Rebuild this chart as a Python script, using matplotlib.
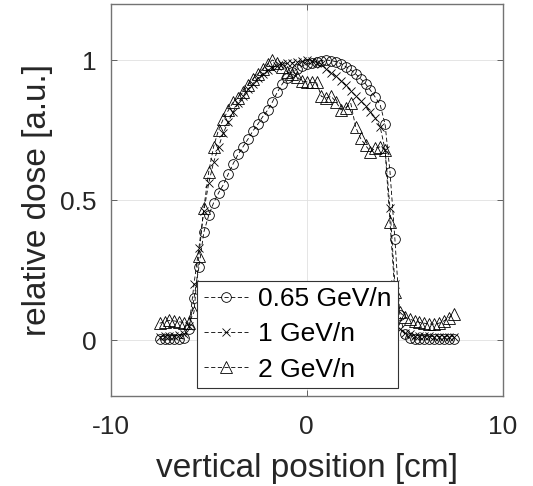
import matplotlib
matplotlib.use('Agg')
import matplotlib.pyplot as plt

# vertical position [cm]
pos = [-7.5, -7.25, -7.0, -6.75, -6.5, -6.25, -6.0, -5.75, -5.5, -5.25,
       -5.0, -4.75, -4.5, -4.25, -4.0, -3.75, -3.5, -3.25, -3.0, -2.75,
       -2.5, -2.25, -2.0, -1.75, -1.5, -1.25, -1.0, -0.75, -0.5, -0.25,
       0.0, 0.25, 0.5, 0.75, 1.0, 1.25, 1.5, 1.75, 2.0, 2.25,
       2.5, 2.75, 3.0, 3.25, 3.5, 3.75, 4.0, 4.25, 4.5, 4.75,
       5.0, 5.25, 5.5, 5.75, 6.0, 6.25, 6.5, 6.75, 7.0, 7.25, 7.5]

dose_065 = [0.003, 0.003, 0.004, 0.004, 0.005, 0.006, 0.04, 0.15, 0.26, 0.385,
            0.445, 0.49, 0.525, 0.555, 0.593, 0.63, 0.663, 0.69, 0.717, 0.746,
            0.77, 0.797, 0.82, 0.85, 0.885, 0.914, 0.937, 0.957, 0.967, 0.977,
            0.985, 0.99, 0.994, 0.998, 1.0, 0.998, 0.994, 0.987, 0.976, 0.965,
            0.95, 0.933, 0.915, 0.892, 0.867, 0.84, 0.77, 0.6, 0.36, 0.09,
            0.02, 0.006, 0.004, 0.004, 0.003, 0.003, 0.003, 0.003, 0.004, 0.004, 0.004]

dose_1 = [0.012, 0.013, 0.015, 0.016, 0.018, 0.02, 0.05, 0.2, 0.33, 0.46,
          0.56, 0.635, 0.69, 0.74, 0.78, 0.815, 0.845, 0.87, 0.895, 0.915,
          0.935, 0.95, 0.963, 0.973, 0.98, 0.985, 0.988, 0.99, 0.993, 0.997,
          1.0, 0.998, 0.99, 0.985, 0.968, 0.955, 0.942, 0.926, 0.91, 0.89,
          0.872, 0.855, 0.835, 0.815, 0.793, 0.76, 0.68, 0.47, 0.2, 0.04,
          0.025, 0.02, 0.016, 0.015, 0.014, 0.013, 0.012, 0.012, 0.012, 0.012, 0.012]

dose_2 = [0.06, 0.065, 0.07, 0.068, 0.065, 0.062, 0.06, 0.1, 0.3, 0.47,
          0.6, 0.69, 0.75, 0.79, 0.82, 0.85, 0.865, 0.885, 0.91, 0.932,
          0.95, 0.967, 0.985, 1.0, 0.99, 0.975, 0.958, 0.95, 0.94, 0.925,
          0.922, 0.92, 0.92, 0.87, 0.865, 0.87, 0.85, 0.822, 0.83, 0.845,
          0.76, 0.72, 0.695, 0.673, 0.685, 0.69, 0.68, 0.42, 0.17, 0.1,
          0.082, 0.075, 0.068, 0.063, 0.06, 0.057, 0.057, 0.06, 0.068, 0.08, 0.093]

labels = ['0.65 GeV/n', '1 GeV/n', '2 GeV/n']

plt.rcParams.update({
    'font.family': ['Liberation Sans', 'DejaVu Sans'],
    'font.size': 19,
    'axes.unicode_minus': False,
    'xtick.direction': 'in',
    'ytick.direction': 'in',
    'xtick.top': True,
    'ytick.right': True,
    'xtick.color': '0.3',
    'ytick.color': '0.3',
    'xtick.labelcolor': '0.15',
    'ytick.labelcolor': '0.15',
    'xtick.labelsize': 19,
    'ytick.labelsize': 19,
})

fig = plt.figure(figsize=(5.33, 4.86), dpi=100)
ax = fig.add_axes([110.7 / 533, 1 - 396 / 486, 392 / 533, 392 / 486])

style = dict(color='black', linestyle=(0, (5, 3)), linewidth=0.6,
             markerfacecolor='none', markeredgewidth=0.6)
ax.plot(pos, dose_065, marker='o', markersize=7, label=labels[0], **style)
ax.plot(pos, dose_1, marker='x', markersize=6, label=labels[1], **style)
ax.plot(pos, dose_2, marker='^', markersize=8, label=labels[2], **style)

ax.set_xlim(-10, 10)
ax.set_ylim(-0.2, 1.2)
ax.set_xticks([-10, 0, 10])
ax.set_yticks([0, 0.5, 1])
ax.set_yticklabels(['0', '0.5', '1'])
ax.tick_params(length=4, width=0.6)
ax.tick_params(axis='x', pad=14)
ax.tick_params(axis='y', pad=10)
ax.grid(True, color='0.88', linewidth=0.6)
ax.set_axisbelow(True)
for sp in ax.spines.values():
    sp.set_color('0.45')
    sp.set_linewidth(1.0)

ax.set_xlabel('vertical position [cm]', fontsize=24, color='0.15', labelpad=10)
ax.set_ylabel('relative dose [a.u.]', fontsize=24, color='0.15', labelpad=5)

leg = ax.legend(loc='lower left', bbox_to_anchor=(0.22, 0.02), fontsize=19,
                fancybox=False, framealpha=1, edgecolor='0.2',
                handlelength=1.7, handletextpad=0.35, labelspacing=0.42,
                borderpad=0.25, borderaxespad=0)
leg.get_frame().set_linewidth(0.8)

fig.savefig('out.png', dpi=100)
